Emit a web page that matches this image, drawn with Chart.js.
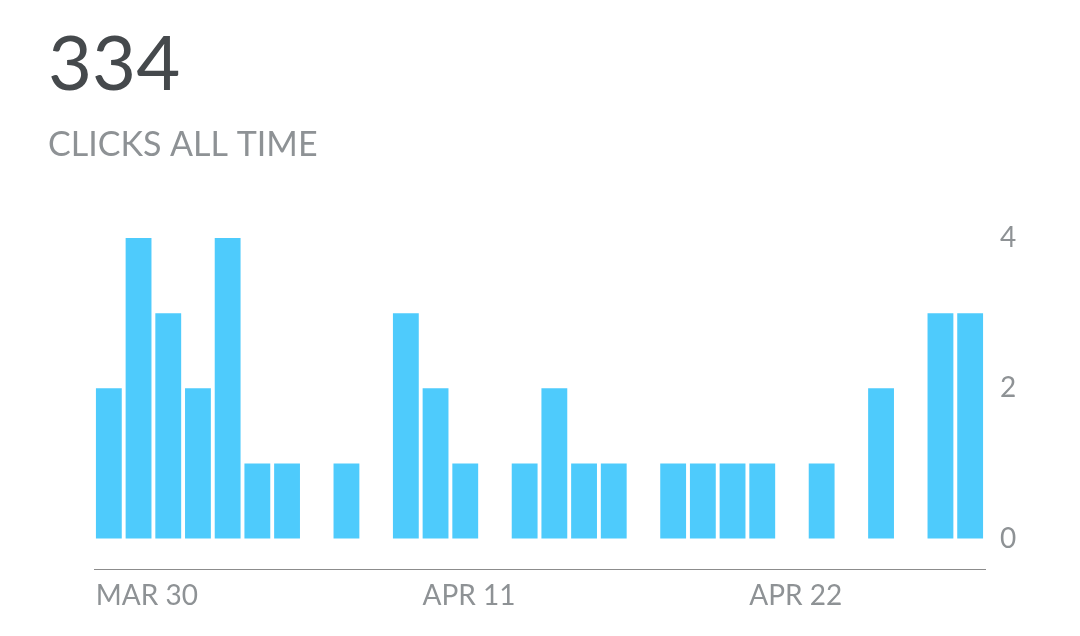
<!DOCTYPE html>
<html>
<head>
<meta charset="utf-8">
<script src="https://cdn.jsdelivr.net/npm/chart.js@4"></script>
<style>
  html, body { margin: 0; padding: 0; background: #fff; }
  #wrap { width: 1080px; height: 636px; }
</style>
</head>
<body>
<div id="wrap"><canvas id="myChart" width="1080" height="636"></canvas></div>
<script>
// one bar per day, only three days carry a label
const dayLabels = [
    'MAR 30', '', '', '', '', '', '', '', '', '', '',
    'APR 11', '', '', '', '', '', '', '', '', '', '',
    'APR 22', '', '', '', '', '', '', ''
];
const clicks = [2, 4, 3, 2, 4, 1, 1, 0, 1, 0, 3, 2, 1, 0, 1, 2, 1, 1, 0, 1, 1, 1, 1, 0, 1, 0, 2, 0, 3, 3];
const yTicks = [0, 2, 4];
const totalClicks = '334';
const subtitleText = 'CLICKS ALL TIME';

const fontFamily = 'Lato, "Open Sans", sans-serif';
const grey = '#8e9295';

const ctx = document.querySelector('#myChart').getContext('2d');
const myChart = new Chart(ctx, {
    type: 'bar',
    data: {
        labels: dayLabels,
        datasets: [{
            label: 'Clicks',
            data: clicks,
            xAxisID: 'x',
            yAxisID: 'y',
            base: 0,
            backgroundColor: '#4ecbfc',
            borderWidth: 0,
            barPercentage: 0.87,
            categoryPercentage: 1.0
        }]
    },
    options: {
        responsive: false,
        animation: false,
        layout: {
            padding: { left: 48, right: 0, top: 20, bottom: 21 }
        },
        plugins: {
            legend: { display: false },
            tooltip: { enabled: false },
            title: {
                display: true,
                text: totalClicks,
                align: 'start',
                color: '#45494c',
                font: { family: fontFamily, size: 76, weight: '400' },
                padding: { top: 0, bottom: 13 }
            },
            subtitle: {
                display: true,
                text: subtitleText,
                align: 'start',
                color: grey,
                font: { family: fontFamily, size: 34, weight: '400' },
                padding: { top: 0, bottom: 73 }
            }
        },
        scales: {
            x: {
                grid: { display: false },
                border: { display: true, color: '#8c8c8c', width: 1 },
                ticks: {
                    autoSkip: false,
                    maxRotation: 0,
                    align: 'start',
                    labelOffset: -13,
                    padding: 2,
                    color: grey,
                    font: { family: fontFamily, size: 28 }
                }
            },
            // empty spacer so the bars start under the title indent
            spacer: {
                type: 'linear',
                position: 'left',
                display: true,
                grid: { display: false },
                border: { display: false },
                ticks: { display: false },
                afterFit: function (scale) { scale.width = 46; }
            },
            y: {
                position: 'right',
                min: -0.41,
                max: 4,
                grid: { display: false, drawTicks: false },
                border: { display: false },
                afterBuildTicks: function (scale) {
                    scale.ticks = yTicks.map(v => ({ value: v }));
                },
                afterFit: function (scale) { scale.width = 95; },
                ticks: {
                    padding: 15,
                    color: grey,
                    font: { family: fontFamily, size: 28 }
                }
            }
        }
    }
});
</script>
</body>
</html>
